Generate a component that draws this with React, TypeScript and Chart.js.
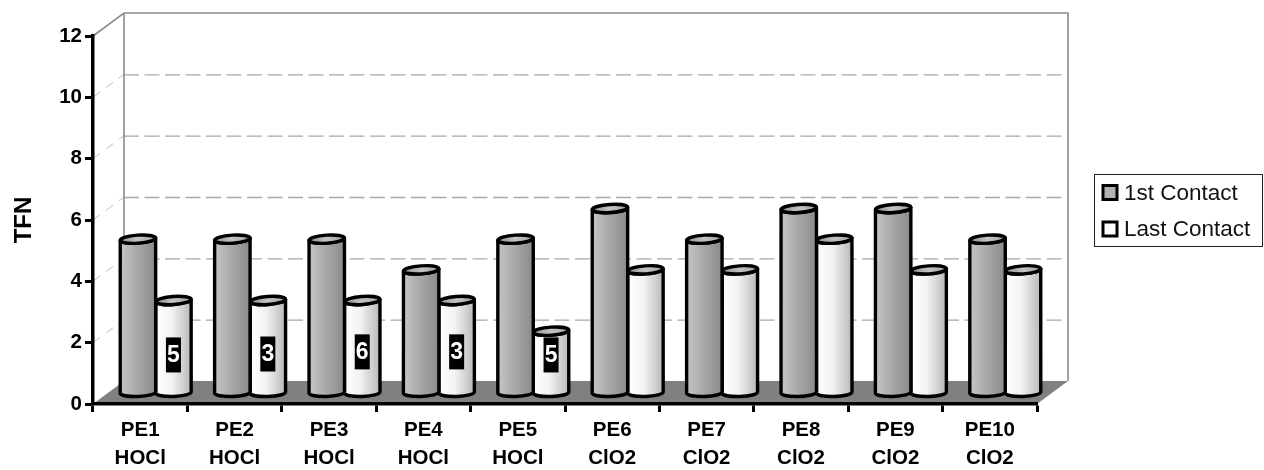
import React, { useEffect, useRef } from "react";
import { Chart, registerables } from "chart.js";

Chart.register(...registerables);

const productNames = ["PE1", "PE2", "PE3", "PE4", "PE5", "PE6", "PE7", "PE8", "PE9", "PE10"];
const disinfectants = ["HOCl", "HOCl", "HOCl", "HOCl", "HOCl", "ClO2", "ClO2", "ClO2", "ClO2", "ClO2"];
const firstContact = [5, 5, 5, 4, 5, 6, 5, 6, 6, 5];
const lastContact = [3, 3, 3, 3, 2, 4, 4, 5, 4, 4];
// Boxed counts printed on the first five white cylinders, and the axis level each is centred on.
const boxedCounts = ["5", "3", "6", "3", "5"];
const boxedLevels = [1.6, 1.63, 1.7, 1.7, 1.6];

const FONT = '"Liberation Sans", Arial, sans-serif';
// Depth of the 3D box, in pixels.
const DEPTH_X = 31;
const DEPTH_Y = 23;

const palette = {
  dark: ["#c6c6c6", "#aaaaaa", "#8a8a8a"],
  light: ["#ffffff", "#f2f2f2", "#b8b8b8"],
};

const boxPlugin = {
  id: "box3d",
  beforeDraw(chart: any) {
    const { ctx, chartArea: a, scales } = chart;
    const y = scales.y;
    ctx.save();
    ctx.fillStyle = "#ffffff";
    ctx.fillRect(0, 0, chart.width, chart.height);

    // Floor
    ctx.fillStyle = "#808080";
    ctx.beginPath();
    ctx.moveTo(a.left, a.bottom);
    ctx.lineTo(a.left + DEPTH_X, a.bottom - DEPTH_Y);
    ctx.lineTo(a.right + DEPTH_X, a.bottom - DEPTH_Y);
    ctx.lineTo(a.right, a.bottom);
    ctx.closePath();
    ctx.fill();

    // Gridlines across the side wall and the back wall
    y.ticks.forEach((t: any) => {
      if (t.value === y.min || t.value === y.max) return;
      const py = y.getPixelForValue(t.value);
      ctx.strokeStyle = "#bdbdbd";
      ctx.lineWidth = 1;
      ctx.setLineDash([9, 7]);
      ctx.beginPath();
      ctx.moveTo(a.left, py);
      ctx.lineTo(a.left + DEPTH_X, py - DEPTH_Y);
      ctx.stroke();
      ctx.strokeStyle = "#a8a8a8";
      ctx.lineWidth = 1.4;
      ctx.setLineDash([15, 5.5]);
      ctx.beginPath();
      ctx.moveTo(a.left + DEPTH_X, py - DEPTH_Y + 0.5);
      ctx.lineTo(a.right + DEPTH_X - 4, py - DEPTH_Y + 0.5);
      ctx.stroke();
    });
    ctx.setLineDash([]);

    // Outline of the back wall
    ctx.strokeStyle = "#8c8c8c";
    ctx.lineWidth = 1.6;
    ctx.beginPath();
    ctx.moveTo(a.left, a.top);
    ctx.lineTo(a.left + DEPTH_X, a.top - DEPTH_Y);
    ctx.lineTo(a.right + DEPTH_X, a.top - DEPTH_Y);
    ctx.lineTo(a.right + DEPTH_X, a.bottom - DEPTH_Y);
    ctx.moveTo(a.left + DEPTH_X, a.top - DEPTH_Y);
    ctx.lineTo(a.left + DEPTH_X, a.bottom - DEPTH_Y);
    ctx.stroke();
    ctx.restore();
  },
};

function drawCylinder(ctx: CanvasRenderingContext2D, cx: number, top: number, base: number, w: number, stops: string[]) {
  const rx = w / 2;
  const ry = 4;
  const tilt = (-4 * Math.PI) / 180;
  const baseTilt = (-2 * Math.PI) / 180;
  const grad = ctx.createLinearGradient(cx - rx, 0, cx + rx, 0);
  grad.addColorStop(0, stops[0]);
  grad.addColorStop(0.45, stops[1]);
  grad.addColorStop(1, stops[2]);
  ctx.lineWidth = 3.4;
  ctx.strokeStyle = "#000";
  ctx.lineJoin = "round";

  ctx.beginPath();
  ctx.ellipse(cx, base, rx, ry, baseTilt, Math.PI, 0, true);
  ctx.ellipse(cx, top, rx, ry, tilt, 0, Math.PI, false);
  ctx.closePath();
  ctx.fillStyle = grad;
  ctx.fill();
  ctx.stroke();

  const capGrad = ctx.createLinearGradient(cx - rx, 0, cx + rx, 0);
  capGrad.addColorStop(0, "#8f8f8f");
  capGrad.addColorStop(0.5, "#c4c4c4");
  capGrad.addColorStop(1, "#a0a0a0");
  ctx.beginPath();
  ctx.ellipse(cx, top, rx, ry, tilt, 0, Math.PI * 2);
  ctx.fillStyle = capGrad;
  ctx.fill();
  ctx.stroke();
}

const cylinderPlugin = {
  id: "cylinders",
  // The bars are replaced by cylinders standing halfway into the box.
  beforeDatasetDraw(chart: any, args: any) {
    const { ctx, scales } = chart;
    const zero = scales.y.getPixelForValue(0);
    const stops = args.index === 0 ? palette.dark : palette.light;
    ctx.save();
    args.meta.data.forEach((bar: any) => {
      const cx = bar.x + DEPTH_X / 2;
      drawCylinder(ctx, cx, bar.y - DEPTH_Y / 2, zero - DEPTH_Y / 2, bar.width, stops);
    });
    ctx.restore();
    return false;
  },
  afterDatasetsDraw(chart: any) {
    const { ctx, scales } = chart;
    const bars = chart.getDatasetMeta(1).data;
    ctx.save();
    boxedCounts.forEach((count, i) => {
      const cx = bars[i].x + DEPTH_X / 2;
      const cy = scales.y.getPixelForValue(boxedLevels[i]);
      ctx.fillStyle = "#000";
      ctx.fillRect(cx - 7.5, cy - 17.5, 15, 35);
      ctx.fillStyle = "#fff";
      ctx.font = `bold 23px ${FONT}`;
      ctx.textAlign = "center";
      ctx.textBaseline = "middle";
      ctx.fillText(count, cx, cy + 1);
    });

    // Legend panel at the right of the plot
    ctx.strokeStyle = "#222";
    ctx.lineWidth = 1;
    ctx.fillStyle = "#fff";
    ctx.fillRect(1094.5, 174.5, 168, 72);
    ctx.strokeRect(1094.5, 174.5, 168, 72);
    chart.data.datasets.forEach((ds: any, i: number) => {
      const cy = 192.5 + i * 36.5;
      ctx.fillStyle = ds.backgroundColor;
      ctx.fillRect(1103, cy - 7, 14, 14);
      ctx.lineWidth = 3;
      ctx.strokeStyle = "#000";
      ctx.strokeRect(1103, cy - 7, 14, 14);
      ctx.fillStyle = "#111";
      ctx.font = `22.5px ${FONT}`;
      ctx.textAlign = "left";
      ctx.textBaseline = "middle";
      ctx.fillText(ds.label, 1124, cy + 1);
    });
    ctx.restore();
  },
};

export default function App() {
  const canvasRef = useRef<HTMLCanvasElement>(null);

  useEffect(() => {
    const chart = new Chart(canvasRef.current!, {
      type: "bar",
      data: {
        labels: productNames.map((name, i) => [name, disinfectants[i]]),
        datasets: [
          { label: "1st Contact", data: firstContact, backgroundColor: "#b2b2b2" },
          { label: "Last Contact", data: lastContact, backgroundColor: "#ffffff" },
        ],
      },
      options: {
        responsive: false,
        animation: false,
        events: [],
        layout: { padding: { left: 0, top: 36, right: 227, bottom: 0 } },
        plugins: { legend: { display: false }, tooltip: { enabled: false } },
        datasets: { bar: { categoryPercentage: 0.752, barPercentage: 1 } },
        scales: {
          x: {
            afterFit: (scale: any) => { scale.height = 66; },
            border: { width: 3.5, color: "#000" },
            grid: { drawOnChartArea: false, tickLength: 8, tickWidth: 3, tickColor: "#000" },
            ticks: {
              autoSkip: false,
              maxRotation: 0,
              padding: 4,
              color: "#000",
              font: { family: FONT, size: 20.5, weight: "bold", lineHeight: 1.37 },
            },
          },
          y: {
            min: 0,
            max: 12,
            afterFit: (scale: any) => { scale.width = 93; },
            border: { width: 3.5, color: "#000" },
            grid: { drawOnChartArea: false, tickLength: 8, tickWidth: 3, tickColor: "#000" },
            ticks: {
              stepSize: 2,
              padding: 3,
              color: "#000",
              font: { family: FONT, size: 20.5, weight: "bold" },
            },
            title: {
              display: true,
              text: "TFN",
              color: "#000",
              padding: { top: 10, bottom: 0 },
              font: { family: FONT, size: 24, weight: "bold" },
            },
          },
        },
      },
      plugins: [boxPlugin, cylinderPlugin],
    } as any);
    return () => chart.destroy();
  }, []);

  return (
    <div style={{ position: "fixed", left: 0, top: 0, width: 1264, height: 470 }}>
      <canvas ref={canvasRef} width={1264} height={470} style={{ display: "block" }} />
    </div>
  );
}
